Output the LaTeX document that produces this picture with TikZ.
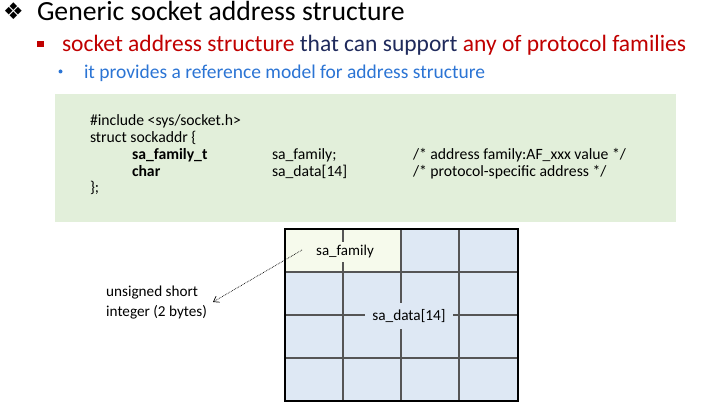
\documentclass[tikz,border=0pt]{standalone}
\usepackage{fontspec}
\setmainfont{Carlito}
\newfontfamily\djv{DejaVu Sans}
\usetikzlibrary{arrows.meta}
\definecolor{myred}{HTML}{C00000}
\definecolor{navy}{HTML}{1F2A5C}
\definecolor{lblue}{HTML}{2B74D4}
\definecolor{codebg}{HTML}{E2EFDA}
\definecolor{cellbg}{HTML}{DEE8F4}
\definecolor{fambg}{HTML}{F6FAEC}
\definecolor{gridc}{HTML}{555555}
\tikzset{
  txt/.style={anchor=base west, inner sep=0pt, outer sep=0pt},
  codefont/.style={font=\fontsize{15.7}{17}\selectfont},
  gridline/.style={draw=gridc, line width=1.2pt},
}
\begin{document}
\begin{tikzpicture}[x=1pt,y=-1pt]
\useasboundingbox (0,0) rectangle (710,414);
% headings
\node[txt, font=\djv\fontsize{23}{23}\selectfont] (dia) at (3,20) {❖};
\node[txt, font=\fontsize{27.7}{28}\selectfont] (title) at (37,21) {Generic socket address structure};
\fill[myred] (37,41) rectangle (44,47);
\node[txt, font=\fontsize{23.5}{24}\selectfont] (l2) at (62,52) {\color{myred}socket address structure \color{navy}that can support \color{myred}any of protocol families};
\fill[lblue] (60.5,71.5) circle (2);
\node[txt, font=\fontsize{19.5}{20}\selectfont, text=lblue] (l3) at (84,79) {it provides a reference model for address structure};
% code box
\fill[codebg] (55,94) rectangle (676,222);
\node[txt, codefont] (c1) at (90,126) {\#include <sys/socket.h>};
\node[txt, codefont] (c2) at (90,143) {struct sockaddr \{};
\node[txt, codefont] (c3a) at (132,160) {\textbf{sa\_family\_t}};
\node[txt, codefont] (c3b) at (272,160) {sa\_family;};
\node[txt, codefont] (c3c) at (413,160) {/* address family:AF\_xxx value */};
\node[txt, codefont] (c4a) at (132,177) {\textbf{char}};
\node[txt, codefont] (c4b) at (272,177) {sa\_data[14]};
\node[txt, codefont] (c4c) at (413,177) {/* protocol-specific address */};
\node[txt, codefont] (c5) at (90,193) {\};};
% grid
\fill[cellbg] (285,229) rectangle (518,401);
\fill[fambg] (285,229) rectangle (401,272);
\foreach \x in {343,401,459} \draw[gridline] (\x,229) -- (\x,401);
\foreach \y in {272,315,358} \draw[gridline] (285,\y) -- (518,\y);
\draw[line width=2pt] (285,229) rectangle (518,401);
\node[fill=fambg, inner xsep=4pt, inner ysep=4pt, font=\fontsize{15}{16}\selectfont] (fam) at (345,252) {sa\_family};
\node[fill=cellbg, inner xsep=7pt, inner ysep=6pt, font=\fontsize{15.3}{16}\selectfont] (data) at (409,316) {sa\_data[14]};
% note
\node[anchor=north west, align=left, inner sep=0pt, font=\fontsize{15.2}{19.5}\selectfont] (note) at (106,286) {unsigned short\\integer (2 bytes)};
\coordinate (from) at (302,250);
\coordinate (to) at (213,302);
\draw[densely dotted, line width=0.7pt, -{Straight Barb[length=5pt,width=7pt]}] (from) -- (to);
\end{tikzpicture}
\end{document}
